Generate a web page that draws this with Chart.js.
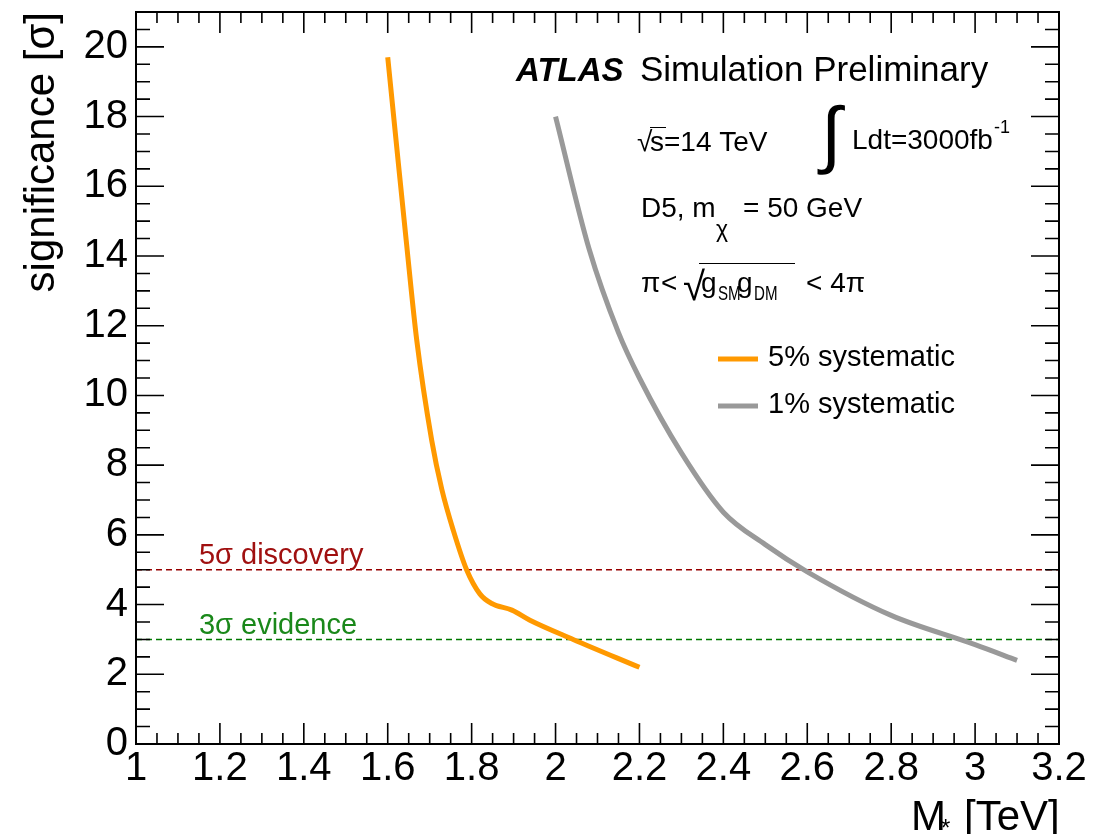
<!DOCTYPE html>
<html>
<head>
<meta charset="utf-8">
<script src="https://cdn.jsdelivr.net/npm/chart.js@4.4.1/dist/chart.umd.min.js"></script>
<style>
  html, body { margin: 0; padding: 0; background: #fff; }
  canvas { display: block; }
</style>
</head>
<body>
<canvas id="SignificanceChart" width="1119" height="834"></canvas>
<script>
// values (M* in TeV, significance in sigma)
const mass5 = [1.6, 1.62, 1.644, 1.669, 1.705, 1.729, 1.757, 1.788, 1.82, 1.848, 1.896, 1.939, 2.042, 2.2];
const sig5 = [19.7, 17.3, 14.45, 11.6, 8.7, 7.3, 6.1, 5.0, 4.3, 4.03, 3.84, 3.55, 3.0, 2.2];
const mass1 = [2.0, 2.08, 2.15, 2.2, 2.3, 2.4, 2.5, 2.6, 2.8, 3.0, 3.1];
const sig1 = [18.0, 14.2, 11.8, 10.5, 8.35, 6.65, 5.72, 4.94, 3.69, 2.85, 2.4];
const refRange = [1, 3.2];
const discovery = [5, 5];
const evidence = [3, 3];
const xTicks = [1, 1.2, 1.4, 1.6, 1.8, 2, 2.2, 2.4, 2.6, 2.8, 3, 3.2];
const yTicks = [0, 2, 4, 6, 8, 10, 12, 14, 16, 18, 20];

const FONT = '"Liberation Sans", Arial, Helvetica, sans-serif';

function pts(xs, ys) {
  return xs.map((x, i) => ({ x: x, y: ys[i] }));
}

function font(size, style) {
  return (style ? style + ' ' : '') + size + 'px ' + FONT;
}

// narrow subscript text like ROOT draws it
function squeezed(ctx, text, x, y, sx) {
  ctx.save();
  ctx.translate(x, y);
  ctx.scale(sx, 1);
  ctx.fillText(text, 0, 0);
  ctx.restore();
}

// ROOT style frame with ticks pointing inside, on all four sides
const frameTicks = {
  id: 'frameTicks',
  afterDraw(chart) {
    const { ctx, chartArea: a, scales: { x, y } } = chart;
    ctx.save();
    ctx.strokeStyle = '#000';
    ctx.lineWidth = 1.6;
    ctx.beginPath();
    for (let i = 0; i <= 44; i++) {
      const px = x.getPixelForValue(1 + i * 0.05);
      const len = i % 4 === 0 ? 21 : 11;
      ctx.moveTo(px, a.bottom); ctx.lineTo(px, a.bottom - len);
      ctx.moveTo(px, a.top); ctx.lineTo(px, a.top + len);
    }
    for (let i = 0; i <= 42; i++) {
      const py = y.getPixelForValue(i * 0.5);
      const len = i % 4 === 0 ? 28 : 14;
      ctx.moveTo(a.left, py); ctx.lineTo(a.left + len, py);
      ctx.moveTo(a.right, py); ctx.lineTo(a.right - len, py);
    }
    ctx.stroke();
    ctx.lineWidth = 2;
    ctx.strokeRect(a.left, a.top, a.width, a.height);
    ctx.restore();
  }
};

const atlasText = {
  id: 'atlasText',
  afterDraw(chart) {
    const { ctx, scales: { x, y } } = chart;
    ctx.save();
    ctx.fillStyle = '#000';
    ctx.strokeStyle = '#000';
    ctx.textAlign = 'left';
    ctx.textBaseline = 'alphabetic';

    ctx.font = font(33, 'italic bold');
    ctx.fillText('ATLAS', 516, 81);
    ctx.font = font(35);
    ctx.fillText('Simulation Preliminary', 640, 81);

    // sqrt(s) = 14 TeV
    ctx.font = font(28);
    ctx.fillText('\u221A', 637, 151);
    ctx.fillText('s=14 TeV', 650, 151);
    ctx.lineWidth = 1;
    ctx.beginPath();
    ctx.moveTo(650, 127.5); ctx.lineTo(666, 127.5);
    ctx.stroke();

    // integrated luminosity
    ctx.font = font(74);
    ctx.fillText('\u222B', 821, 159);
    ctx.font = font(28);
    ctx.fillText('Ldt=3000fb', 852, 149);
    let w = ctx.measureText('Ldt=3000fb').width;
    ctx.font = font(18);
    ctx.fillText('-1', 852 + w + 1, 133);

    // D5, m_chi = 50 GeV
    ctx.font = font(28);
    ctx.fillText('D5, m', 641, 217);
    ctx.font = font(23);
    ctx.fillText('\u03C7', 716, 237);
    ctx.font = font(28);
    ctx.fillText('= 50 GeV', 743, 217);

    // pi < sqrt(g_SM g_DM) < 4 pi
    ctx.fillText('\u03C0', 641, 292);
    ctx.fillText('<', 661, 292);
    ctx.font = font(40);
    ctx.fillText('\u221A', 683, 300);
    ctx.beginPath();
    ctx.moveTo(699, 263.5); ctx.lineTo(795, 263.5);
    ctx.stroke();
    ctx.font = font(28);
    ctx.fillText('g', 701, 292);
    ctx.fillText('g', 737, 292);
    ctx.fillText('< 4\u03C0', 806, 292);
    ctx.font = font(21);
    squeezed(ctx, 'SM', 718, 300, 0.72);
    squeezed(ctx, 'DM', 754, 300, 0.72);

    // legend for the two curves
    const rows = [359, 406];
    chart.data.datasets.slice(0, 2).forEach((ds, i) => {
      ctx.strokeStyle = ds.borderColor;
      ctx.lineWidth = ds.borderWidth;
      ctx.beginPath();
      ctx.moveTo(718, rows[i]); ctx.lineTo(758, rows[i]);
      ctx.stroke();
      ctx.font = font(29);
      ctx.fillStyle = '#000';
      ctx.fillText(ds.label, 768, rows[i] + 7);
    });

    // labels on the reference lines
    ctx.font = font(29);
    ctx.fillStyle = '#a01010';
    ctx.fillText('5\u03C3 discovery', x.getPixelForValue(1.15), y.getPixelForValue(discovery[0]) - 6);
    ctx.fillStyle = '#1a881a';
    ctx.fillText('3\u03C3 evidence', x.getPixelForValue(1.15), y.getPixelForValue(evidence[0]) - 5);

    // axis titles
    ctx.fillStyle = '#000';
    ctx.save();
    ctx.translate(54, 12);
    ctx.rotate(-Math.PI / 2);
    ctx.textAlign = 'right';
    ctx.font = font(42);
    ctx.fillText('significance [\u03C3]', 0, 0);
    ctx.restore();

    ctx.font = font(42);
    ctx.fillText('M', 911, 830);
    ctx.font = font(24);
    ctx.fillText('*', 941, 836);
    ctx.font = font(42);
    ctx.fillText('[TeV]', 964, 830);
    ctx.restore();
  }
};

function drawSignificanceChart() {
  const ctx = document.getElementById('SignificanceChart');

  new Chart(ctx, {
    type: 'line',
    data: {
      datasets: [{
        label: '5% systematic',
        data: pts(mass5, sig5),
        borderColor: 'rgb(255, 153, 0)',
        borderWidth: 5,
        pointRadius: 0,
        cubicInterpolationMode: 'monotone'
      }, {
        label: '1% systematic',
        data: pts(mass1, sig1),
        borderColor: 'rgb(153, 153, 153)',
        borderWidth: 5,
        pointRadius: 0,
        cubicInterpolationMode: 'monotone'
      }, {
        label: '5 sigma discovery',
        data: pts(refRange, discovery),
        borderColor: 'rgb(150, 0, 0)',
        borderWidth: 1.5,
        borderDash: [6, 4],
        pointRadius: 0
      }, {
        label: '3 sigma evidence',
        data: pts(refRange, evidence),
        borderColor: 'rgb(0, 120, 0)',
        borderWidth: 1.5,
        borderDash: [6, 4],
        pointRadius: 0
      }]
    },
    options: {
      responsive: false,
      animation: false,
      layout: { padding: { left: 0, right: 60, top: 12, bottom: 0 } },
      plugins: {
        legend: { display: false },
        tooltip: { enabled: false }
      },
      scales: {
        x: {
          type: 'linear',
          min: 1,
          max: 3.2,
          grid: { display: false, drawTicks: false },
          border: { display: false },
          afterBuildTicks: s => { s.ticks = xTicks.map(v => ({ value: v })); },
          afterFit: s => { s.height = 90; s.paddingLeft = 0; s.paddingRight = 0; },
          ticks: {
            autoSkip: false,
            maxRotation: 0,
            padding: 1,
            color: '#000',
            font: { family: FONT, size: 40 },
            callback: v => String(v)
          }
        },
        y: {
          type: 'linear',
          min: 0,
          max: 21,
          grid: { display: false, drawTicks: false },
          border: { display: false },
          afterBuildTicks: s => { s.ticks = yTicks.map(v => ({ value: v })); },
          afterFit: s => { s.width = 136; s.paddingTop = 0; s.paddingBottom = 0; },
          ticks: {
            autoSkip: false,
            padding: 8,
            color: '#000',
            font: { family: FONT, size: 40 },
            callback: v => String(v)
          }
        }
      }
    },
    plugins: [frameTicks, atlasText]
  });
}

drawSignificanceChart();
</script>
</body>
</html>
